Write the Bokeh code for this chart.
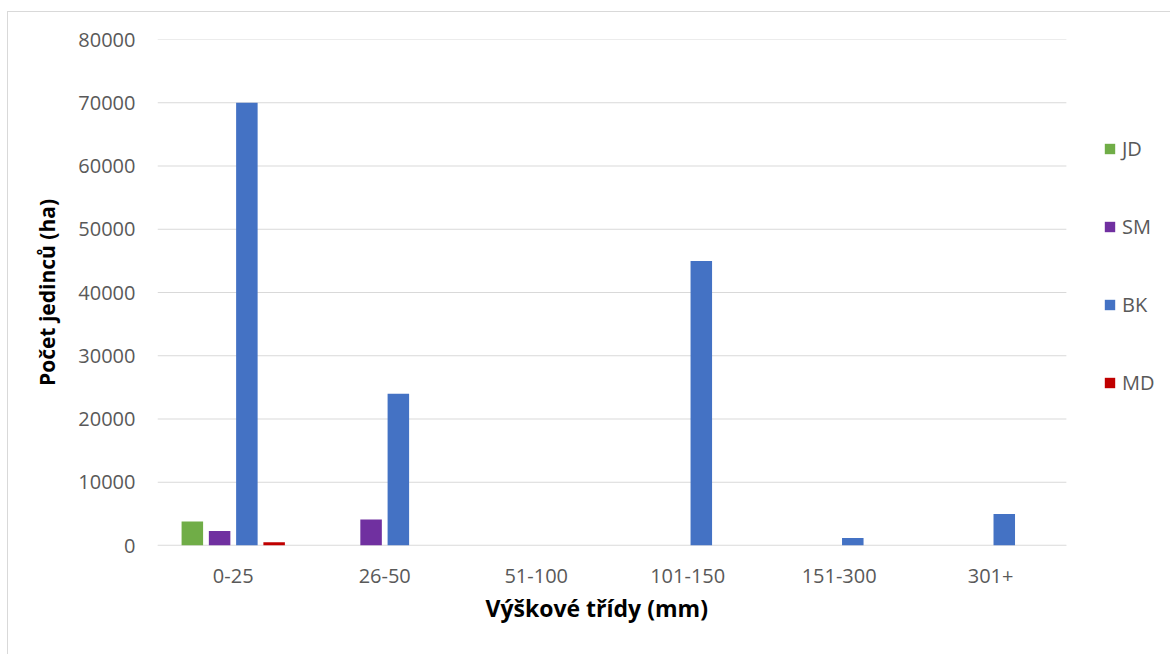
from bokeh.plotting import figure
from bokeh.models import Legend, LegendItem, FixedTicker, NumeralTickFormatter, Title
from bokeh.embed import file_html
from bokeh.resources import INLINE

# Height classes and counts per hectare for each species
classes = ["0-25", "26-50", "51-100", "101-150", "151-300", "301+"]
jd = [3800, 0, 0, 0, 0, 0]
sm = [2300, 4100, 0, 0, 0, 0]
bk = [70000, 24000, 0, 45000, 1200, 5000]
md = [500, 0, 0, 0, 0, 0]
y_ticks = [0, 10000, 20000, 30000, 40000, 50000, 60000, 70000, 80000]

STEP = 0.18   # distance between neighbouring bars in a class
BAR_W = 0.142
series = [
    ("JD", jd, "#70AD47", -1.5),
    ("SM", sm, "#7030A0", -0.5),
    ("BK", bk, "#4472C4", 0.5),
    ("MD", md, "#C00000", 1.5),
]

FONT = "Open Sans"
GRID = "#D9D9D9"
TXT = "#595959"

xs = list(range(len(classes)))
x_lo, x_hi = -0.5, len(classes) - 0.5

# the frame runs past the last class so the legend has room on the right
p = figure(
    x_range=(x_lo, 6.194),
    y_range=(0, 80000),
    width=1163, height=643,
    output_backend="svg", toolbar_location=None,
    min_border_left=149, min_border_right=0,
    min_border_top=27, min_border_bottom=110,
)
p.styles = {
    "margin-left": "7px", "margin-top": "11px",
    "border-left": "1px solid #D9D9D9", "border-top": "1px solid #D9D9D9",
}
p.xgrid.grid_line_color = None
p.ygrid.grid_line_color = None
p.outline_line_color = None

# horizontal gridlines and the category axis line, limited to the classes
p.segment(x0=[x_lo] * len(y_ticks), x1=[x_hi] * len(y_ticks), y0=y_ticks, y1=y_ticks,
          line_color=GRID, line_width=1)
p.segment(x0=[x_lo], x1=[x_hi], y0=[0], y1=[0], line_color=GRID, line_width=1.5)

items = []
for name, vals, color, k in series:
    r = p.vbar(x=[x + k * STEP for x in xs], top=vals, width=BAR_W,
               fill_color=color, line_color=None)
    items.append(LegendItem(label=name, renderers=[r]))

p.yaxis.ticker = FixedTicker(ticks=y_ticks)
p.yaxis.formatter = NumeralTickFormatter(format="0")
p.yaxis.axis_line_color = None
p.yaxis.major_tick_line_color = None
p.yaxis.minor_tick_line_color = None
p.yaxis.major_label_standoff = 16
p.yaxis.major_label_text_font = FONT
p.yaxis.major_label_text_font_size = "20px"
p.yaxis.major_label_text_color = TXT
p.yaxis.axis_label = "Počet jedinců (ha)"
p.yaxis.axis_label_text_font = FONT
p.yaxis.axis_label_text_font_size = "21px"
p.yaxis.axis_label_text_font_style = "bold"
p.yaxis.axis_label_text_color = "#000000"
p.yaxis.axis_label_standoff = 14

p.xaxis.ticker = FixedTicker(ticks=xs)
p.xaxis.major_label_overrides = {x: c for x, c in zip(xs, classes)}
p.xaxis.axis_line_color = None
p.xaxis.major_tick_line_color = None
p.xaxis.minor_tick_line_color = None
p.xaxis.major_label_standoff = 17
p.xaxis.major_label_text_font = FONT
p.xaxis.major_label_text_font_size = "20px"
p.xaxis.major_label_text_color = TXT

p.add_layout(Title(text="Výškové třídy (mm)", align="left", offset=328,
                   text_font=FONT, text_font_size="23px", text_font_style="bold",
                   text_color="#000000", standoff=8), "below")

legend = Legend(
    items=items, location=(946, 149), orientation="vertical",
    spacing=51, padding=0, margin=0,
    glyph_width=13, glyph_height=13, label_standoff=6,
    label_text_font=FONT, label_text_font_size="20px", label_text_color=TXT,
    border_line_color=None, background_fill_alpha=0,
)
p.add_layout(legend, "center")

open("out.html", "w").write(file_html(p, INLINE))
